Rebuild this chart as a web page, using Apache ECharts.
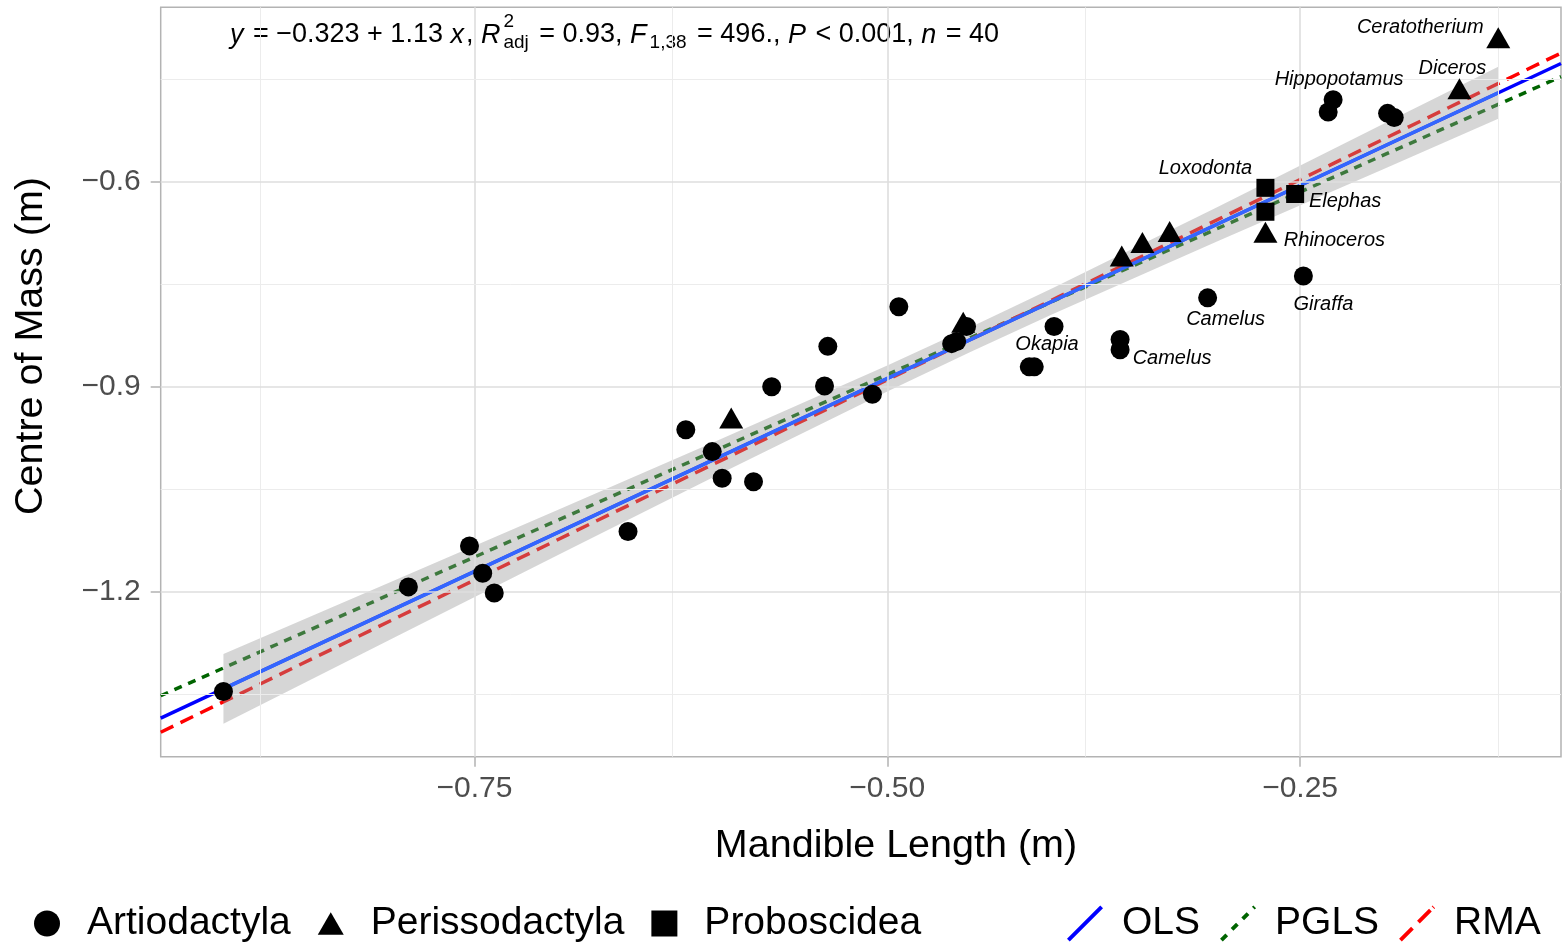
<!DOCTYPE html>
<html>
<head>
<meta charset="utf-8">
<script src="https://cdn.jsdelivr.net/npm/echarts@6/dist/echarts.min.js"></script>
<style>html,body{margin:0;padding:0;background:#fff}#chart{width:1566px;height:946px}</style>
</head>
<body>
<div id="chart"></div>
<script>
// ---------------- data ----------------
const artiodactyla = [
  [-0.902,-1.346],[-0.790,-1.193],[-0.753,-1.133],[-0.745,-1.173],[-0.738,-1.202],
  [-0.657,-1.112],[-0.622,-0.963],[-0.606,-0.995],[-0.600,-1.034],[-0.581,-1.039],
  [-0.570,-0.900],[-0.538,-0.899],[-0.509,-0.911],[-0.493,-0.783],[-0.536,-0.841],
  [-0.452,-0.812],[-0.461,-0.837],[-0.458,-0.834],[-0.399,-0.812],[-0.414,-0.871],
  [-0.411,-0.871],[-0.359,-0.831],[-0.359,-0.846],[-0.230,-0.480],[-0.233,-0.498],
  [-0.197,-0.500],[-0.193,-0.506],[-0.248,-0.738],[-0.306,-0.770]
];
const artiodactylaLabels = ['','','','','','','','','','','','','','','','','','',
  'Okapia','','','','Camelus','Hippopotamus','','','','Giraffa','Camelus'];
const perissodactyla = [
  [-0.5945,-0.951],[-0.454,-0.811],[-0.358,-0.714],[-0.3455,-0.694],[-0.329,-0.678],
  [-0.271,-0.679],[-0.1535,-0.469],[-0.130,-0.3945]
];
const perissodactylaLabels = ['','','','','','Rhinoceros','Diceros','Ceratotherium'];
const proboscidea = [[-0.271,-0.609],[-0.271,-0.644],[-0.253,-0.618]];
const proboscideaLabels = ['Loxodonta','','Elephas'];

// regression lines (end points read at the panel edges)
const olsLine  = [[-0.940,-1.3852],[-0.092,-0.4270]];
const pglsLine = [[-0.940,-1.3523],[-0.092,-0.4463]];
const rmaLine  = [[-0.940,-1.4057],[-0.092,-0.4118]];
const olsFit   = [[-0.902,-1.3423],[-0.130,-0.4699]];
// confidence band of the OLS fit
const bandX     = [-0.902,-0.80,-0.70,-0.60,-0.50,-0.45,-0.40,-0.30,-0.20,-0.130];
const bandUpper = [-1.2913,-1.185,-1.081,-0.976,-0.869,-0.8135,-0.756,-0.637,-0.516,-0.4319];
const bandLower = [-1.3933,-1.269,-1.147,-1.026,-0.907,-0.8495,-0.794,-0.687,-0.582,-0.5079];

// axes
const xRange = [-0.940,-0.092];
const yRange = [-1.4415,-0.3448];
const xTicks = [-0.75,-0.50,-0.25];
const xMinor = [-0.875,-0.625,-0.375,-0.125];
const yTicks = [-1.2,-0.9,-0.6];
const yMinor = [-1.35,-1.05,-0.75,-0.45];

// text
const xTitle = 'Mandible Length (m)';
const yTitle = 'Centre of Mass (m)';
const groupNames = ['Artiodactyla','Perissodactyla','Proboscidea'];
const lineNames = ['OLS','PGLS','RMA'];
const eqPrefix = '{i|y} = \u22120.323 + 1.13 {i|x}, {i|R}';
const eqRest = '{sub|adj} = 0.93, {i|F}{sub|1,38} = 496., {i|P} < 0.001, {i|n} = 40';
const eqSup = '2';

// ---------------- layout / style ----------------
const FF = '"Liberation Sans", Arial, Helvetica, sans-serif';
const labelOffsets = {
  'Okapia':[-7,18],'Camelus#22':[52,9],'Hippopotamus':[6,-20],'Giraffa':[20,28],'Camelus#28':[18,22],
  'Rhinoceros':[69,5],'Diceros':[-7,-24],'Ceratotherium':[-78,-14],'Loxodonta':[-60,-19],'Elephas':[50,7]
};
const TRI_OFF = -3.5;

function fmt(v, d){ return (v < 0 ? '\u2212' : '') + Math.abs(v).toFixed(d); }

function pointItems(pts, labels, isTri){
  return pts.map((p, i) => {
    const name = labels[i];
    const item = {value: p};
    if (name) {
      const off = labelOffsets[name + '#' + i] || labelOffsets[name];
      item.label = {
        show: true, formatter: name, position: 'inside',
        offset: [off[0], off[1] - (isTri ? TRI_OFF : 0)],
        color: '#000', fontSize: 20, fontStyle: 'italic', fontFamily: FF,
        textBorderWidth: 0, opacity: 1
      };
    }
    return item;
  });
}

function segLine(name, pts, color, width, dash, z){
  return {
    type: 'custom', name: name, z: z, silent: true, clip: true,
    coordinateSystem: 'cartesian2d',
    itemStyle: {color: color, opacity: 1},
    data: pts,
    renderItem: function(params, api){
      if (params.dataIndex !== 0) return null;
      const a = api.coord(pts[0]), b = api.coord(pts[1]);
      return {type: 'line', shape: {x1: a[0], y1: a[1], x2: b[0], y2: b[1]},
        style: {stroke: color, lineWidth: width, lineDash: dash, fill: null}};
    }
  };
}

// diagonal legend keys (dashes along a diagonal, drawn as filled strips)
function diagPath(segs){
  const S = 36, h = 2.1;
  let d = '';
  segs.forEach(([t1, t2]) => {
    const p1 = [S*t1, S - S*t1], p2 = [S*t2, S - S*t2];
    const n = [h/Math.SQRT2, h/Math.SQRT2];
    const q = [[p1[0]-n[0],p1[1]-n[1]],[p2[0]-n[0],p2[1]-n[1]],[p2[0]+n[0],p2[1]+n[1]],[p1[0]+n[0],p1[1]+n[1]]];
    d += 'M' + q.map(c => c[0].toFixed(2) + ',' + c[1].toFixed(2)).join('L') + 'Z';
  });
  return 'path://' + d;
}
const iconOLS = diagPath([[0,1]]);
const iconPGLS = diagPath([[0,0.16],[0.32,0.48],[0.64,0.80],[0.96,1]]);
const iconRMA = diagPath([[0,0.36],[0.54,0.90],[0.98,1]]);

// equation layout
const EQ_FS = 27, EQ_SMALL = 19, EQ_X0 = 230, EQ_Y = 35, IT_PAD = 2;
const ctx = document.createElement('canvas').getContext('2d');
function mw(t, size, it){ ctx.font = (it ? 'italic ' : '') + size + 'px ' + FF; return ctx.measureText(t).width; }
const prefixWidth = mw('y', EQ_FS, true) + mw(' = \u22120.323 + 1.13 ', EQ_FS) + mw('x', EQ_FS, true) +
  mw(', ', EQ_FS) + mw('R', EQ_FS, true) + 3 * IT_PAD;
const eqRich = {
  i: {fontSize: EQ_FS, fontStyle: 'italic', fontFamily: FF, color: '#000', padding: [0, IT_PAD, 0, 0]},
  sub: {fontSize: EQ_SMALL, fontFamily: FF, color: '#000', padding: [16, 3, 0, 1]}
};
function eqText(text, x){
  return {type: 'text', x: x, y: EQ_Y, silent: true,
    style: {text: text, fontSize: EQ_FS, fontFamily: FF, fill: '#000', align: 'left', verticalAlign: 'middle', rich: eqRich}};
}

const majorLine = {color:'#DEDEDE', width:1.6, type:'solid'};
const minorLine = {color:'#ECECEC', width:1, type:'solid'};
const gridMarks = []
  .concat(xTicks.map(v => ({xAxis: v, lineStyle: majorLine})))
  .concat(xMinor.map(v => ({xAxis: v, lineStyle: minorLine})))
  .concat(yTicks.map(v => ({yAxis: v, lineStyle: majorLine})))
  .concat(yMinor.map(v => ({yAxis: v, lineStyle: minorLine})));

const chart = echarts.init(document.getElementById('chart'), null, {renderer: 'canvas'});
const option = {
  animation: false,
  backgroundColor: '#fff',
  textStyle: {fontFamily: FF},
  grid: {left: 160.7, right: 5, top: 7.3, bottom: 189.3, containLabel: false, outerBoundsMode: 'none',
    show: true, borderColor: '#B3B3B3', borderWidth: 1.5, backgroundColor: '#fff'},
  xAxis: {
    type: 'value', min: xRange[0], max: xRange[1],
    axisLine: {show: false}, splitLine: {show: false},
    axisTick: {show: true, customValues: xTicks, length: 10, lineStyle: {color: '#B3B3B3', width: 1.5}},
    axisLabel: {customValues: xTicks, formatter: v => fmt(v, 2), fontSize: 30, color: '#4D4D4D', margin: 17, fontFamily: FF}
  },
  yAxis: {
    type: 'value', min: yRange[0], max: yRange[1],
    axisLine: {show: false}, splitLine: {show: false},
    axisTick: {show: true, customValues: yTicks, length: 10, lineStyle: {color: '#B3B3B3', width: 1.5}},
    axisLabel: {customValues: yTicks, formatter: v => fmt(v, 1), fontSize: 30, color: '#4D4D4D', margin: 20, fontFamily: FF}
  },
  legend: [{
    data: [{name: groupNames[0], icon: 'circle'},
           {name: groupNames[1], icon: 'path://M15,0L30,26L0,26Z'},
           {name: groupNames[2], icon: 'rect'}],
    left: 29, top: 899, orient: 'horizontal', itemWidth: 26, itemHeight: 26, itemGap: 27,
    selectedMode: false,
    itemStyle: {opacity: 1},
    textStyle: {fontSize: 39, color: '#000', fontFamily: FF, padding: [0, 0, 0, 22]}
  }, {
    data: [{name: lineNames[0], icon: iconOLS}, {name: lineNames[1], icon: iconPGLS}, {name: lineNames[2], icon: iconRMA}],
    left: 1062, top: 899, orient: 'horizontal', itemWidth: 36, itemHeight: 36, itemGap: 20,
    selectedMode: false,
    textStyle: {fontSize: 39, color: '#000', fontFamily: FF, padding: [0, 0, 0, 14]}
  }],
  graphic: [
    {type: 'text', x: 896, y: 846, silent: true,
      style: {text: xTitle, fontSize: 39.5, fontFamily: FF, fill: '#000', align: 'center', verticalAlign: 'middle'}},
    {type: 'text', x: 31, y: 346, rotation: Math.PI / 2, silent: true,
      style: {text: yTitle, fontSize: 39.5, fontFamily: FF, fill: '#000', align: 'center', verticalAlign: 'middle'}},
    eqText(eqPrefix, EQ_X0),
    eqText(eqRest, EQ_X0 + prefixWidth),
    {type: 'text', x: EQ_X0 + prefixWidth + 1, y: EQ_Y - 13, silent: true,
      style: {text: eqSup, fontSize: EQ_SMALL, fontFamily: FF, fill: '#000', align: 'left', verticalAlign: 'middle'}}
  ],
  series: [
    {type: 'scatter', name: '_grid', data: [], z: 0, silent: true,
      markLine: {silent: true, symbol: ['none', 'none'], label: {show: false}, animation: false, data: gridMarks}},
    segLine(lineNames[0], olsLine, '#0000FF', 3.5, null, 2),
    segLine(lineNames[1], pglsLine, '#006400', 3.5, [8, 7], 2),
    segLine(lineNames[2], rmaLine, '#FF0000', 3.5, [14, 8], 2),
    {type: 'custom', name: '_band', z: 3, silent: true, clip: true, coordinateSystem: 'cartesian2d',
      data: bandX.map((x, i) => [x, bandLower[i], bandUpper[i]]),
      encode: {x: 0, y: [1, 2]},
      renderItem: function(params, api){
        if (params.dataIndex !== 0) return null;
        const pts = [];
        for (let i = 0; i < bandX.length; i++) pts.push(api.coord([bandX[i], bandUpper[i]]));
        for (let i = bandX.length - 1; i >= 0; i--) pts.push(api.coord([bandX[i], bandLower[i]]));
        return {type: 'polygon', shape: {points: pts}, style: {fill: 'rgba(153,153,153,0.4)'}};
      }},
    segLine('_fit', olsFit, '#3366FF', 3.5, null, 4),
    {type: 'scatter', name: groupNames[0], symbol: 'circle', symbolSize: 19, z: 5,
      itemStyle: {color: '#000', opacity: 1}, emphasis: {disabled: true},
      data: pointItems(artiodactyla, artiodactylaLabels, false)},
    {type: 'scatter', name: groupNames[1], symbol: 'triangle', symbolSize: [24, 21], symbolOffset: [0, TRI_OFF], z: 5,
      itemStyle: {color: '#000', opacity: 1}, emphasis: {disabled: true},
      data: pointItems(perissodactyla, perissodactylaLabels, true)},
    {type: 'scatter', name: groupNames[2], symbol: 'rect', symbolSize: 18, z: 5,
      itemStyle: {color: '#000', opacity: 1}, emphasis: {disabled: true},
      data: pointItems(proboscidea, proboscideaLabels, false)}
  ]
};
chart.setOption(option);
</script>
</body>
</html>
